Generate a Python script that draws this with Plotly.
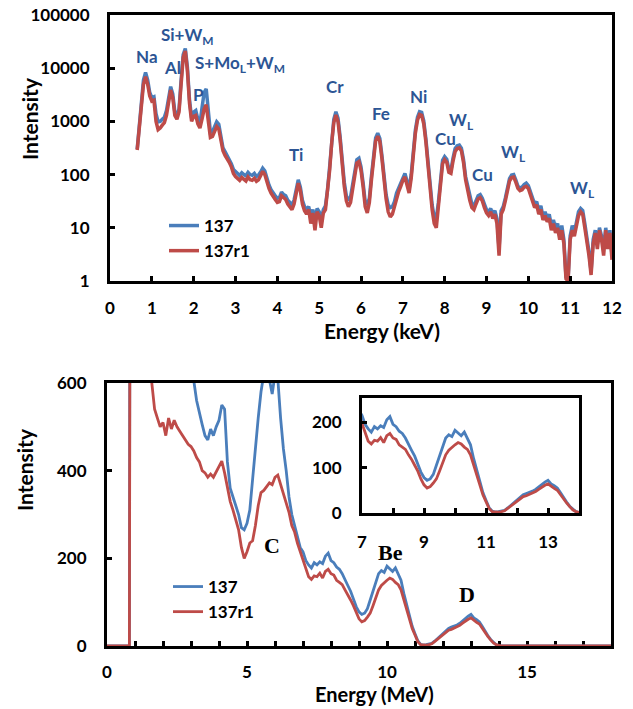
import plotly.graph_objects as go

# ---------------- data: top panel (X-ray spectrum, keV) ----------------
kev_start = 0.65
kev_step = 0.05
# one row per keV interval (0.65-0.95, 1.00-1.95, ..., 11.00-11.95, 12.00)
top_137 = [
    300, 750, 2200, 6000, 8300, 6000, 3500,
    2800, 2900, 1400, 980, 1000, 1100, 1200, 1600, 2600, 4500, 3300, 1500, 1300, 1700, 6000, 18000, 23500, 10500, 2600, 1150,
    1500, 1600, 1100, 900, 1800, 3500, 4100, 1800, 620, 640, 780, 980, 880, 500, 320, 270, 230, 195, 160, 125,
    112, 105, 96, 108, 100, 95, 110, 100, 97, 105, 92, 98, 112, 132, 118, 82, 64, 52, 44, 40,
    36, 37, 47, 42, 40, 33, 30, 27, 33, 53, 80, 58, 33, 25, 22, 25, 16, 22, 13, 23,
    20, 14, 22, 26, 52, 140, 460, 1100, 1520, 1150, 520, 175, 72, 40, 33, 38, 65, 128, 190, 203,
    140, 70, 31, 27, 36, 95, 250, 490, 600, 480, 230, 95, 42, 27, 24, 25, 31, 45, 56, 70,
    92, 105, 76, 54, 100, 290, 690, 1200, 1520, 1480, 1030, 480, 175, 65, 27, 16, 15, 30, 92, 185,
    218, 195, 125, 120, 205, 310, 350, 360, 315, 195, 92, 58, 38, 28, 26, 32, 40, 42, 36, 28,
    22, 20, 23, 18, 21, 15, 4, 21, 25, 36, 56, 84, 98, 100, 80, 61, 56, 58, 65, 69,
    62, 48, 35, 28, 31, 21, 26, 16, 20, 15, 18, 11, 14, 10, 12, 7, 11, 6, 1.2, 1.1,
    7, 11, 8, 14, 20, 23, 21, 12, 7, 3.5, 1.5, 6, 9, 5, 10, 7, 4, 10, 5, 9,
    3,
]
top_137r1 = [
    290, 700, 2000, 5000, 6900, 5000, 3000,
    2400, 2500, 1000, 700, 750, 850, 950, 1300, 2200, 3900, 2800, 1300, 1100, 1500, 5000, 16000, 21000, 9000, 2200, 1000,
    1250, 1300, 900, 750, 1100, 1700, 2050, 1100, 500, 520, 650, 800, 720, 420, 280, 230, 200, 170, 140, 105,
    92, 85, 78, 88, 82, 76, 90, 80, 78, 85, 75, 80, 95, 115, 100, 70, 55, 45, 38, 34,
    30, 31, 40, 36, 34, 28, 25, 22, 28, 45, 69, 50, 28, 21, 18, 22, 12, 19, 9, 20,
    17, 10, 19, 22, 45, 120, 400, 950, 1320, 1000, 450, 150, 60, 32, 25, 30, 55, 110, 165, 175,
    120, 60, 25, 19, 30, 80, 220, 430, 530, 420, 200, 80, 35, 20, 16, 18, 25, 38, 48, 60,
    78, 90, 65, 45, 85, 250, 600, 1050, 1350, 1300, 900, 420, 150, 55, 22, 12, 10, 25, 80, 160,
    190, 170, 110, 105, 180, 270, 310, 320, 280, 170, 80, 50, 33, 24, 22, 28, 35, 37, 32, 24,
    19, 17, 20, 15, 18, 12, 3, 18, 22, 32, 50, 75, 88, 90, 72, 55, 50, 52, 58, 60,
    55, 42, 30, 24, 27, 18, 22, 14, 17, 13, 15, 9, 12, 8, 10, 6, 9, 5, 1.1, 1.0,
    6, 9, 7, 12, 17, 20, 18, 10, 6, 3, 1.3, 5, 8, 4, 9, 6, 3, 9, 4, 8,
    2.5,
]

# ---------------- data: bottom panel (particle spectrum, MeV) ----------------
mev_start = 0.0
mev_step = 0.1
bot_137 = [
    0, 0, 0, 0, 0, 0, 0, 0, 0, 5000,
    4500, 3800, 3200, 2700, 2300, 2000, 1750, 1550, 1400, 1250,
    1150, 1050, 950, 880, 820, 770, 730, 690, 660, 640,
    620, 605, 560, 530, 505, 480, 470, 495, 480, 500,
    515, 550, 540, 420, 360, 340, 320, 300, 270, 265,
    280, 310, 380, 460, 520, 580, 620, 640, 610, 575,
    620, 610, 520, 450, 400, 340, 300, 275, 255, 225,
    215, 195, 185, 178, 190, 185, 192, 188, 205, 212,
    195, 190, 180, 175, 165, 150, 138, 125, 108, 90,
    78, 72, 75, 85, 105, 125, 150, 165, 172, 168,
    182, 175, 170, 178, 165, 150, 120, 95, 70, 45,
    28, 12, 4, 2, 3, 4, 6, 11, 17, 23,
    30, 36, 40, 43, 45, 48, 52, 58, 63, 68,
    72, 64, 60, 55, 45, 33, 24, 15, 8, 3,
    1, 0, 0, 0, 0, 0, 0, 0, 0, 0,
    0, 0, 0, 0, 0, 0, 0, 0, 0, 0,
    0, 0, 0, 0, 0, 0, 0, 0, 0, 0,
    0, 0, 0, 0, 0, 0, 0, 0, 0, 0,
    0,
]
bot_137r1 = [
    0, 0, 0, 0, 0, 0, 0, 0, 0, 4000,
    3000, 2000, 1500, 1100, 850, 700, 600, 540, 520, 500,
    510, 480, 520, 495, 515, 500, 490, 480, 470, 460,
    455, 445, 430, 420, 400, 395, 385, 392, 385, 398,
    410, 422, 395, 360, 330, 310, 285, 265, 225, 200,
    215, 235, 240, 275, 320, 350, 355, 365, 372, 368,
    385, 390, 370, 345, 330, 305, 275, 260, 235, 215,
    197, 175, 158, 152, 160, 158, 166, 155, 170, 175,
    165, 162, 150, 145, 140, 128, 118, 105, 92, 75,
    62, 55, 58, 66, 75, 92, 110, 128, 138, 145,
    150, 155, 152, 145, 140, 128, 105, 85, 60, 40,
    25, 10, 3, 2, 2, 3, 5, 10, 15, 20,
    27, 32, 36, 38, 41, 43, 47, 52, 57, 61,
    64, 58, 54, 50, 40, 30, 22, 14, 7, 3,
    1, 0, 0, 0, 0, 0, 0, 0, 0, 0,
    0, 0, 0, 0, 0, 0, 0, 0, 0, 0,
    0, 0, 0, 0, 0, 0, 0, 0, 0, 0,
    0, 0, 0, 0, 0, 0, 0, 0, 0, 0,
    0,
]

series_names = ["137", "137r1"]
top_x_ticks = [0, 1, 2, 3, 4, 5, 6, 7, 8, 9, 10, 11, 12]
top_y_ticks = [1, 10, 100, 1000, 10000, 100000]
top_y_labels = ["1", "10", "100", "1000", "10000", "100000"]
bot_x_ticks = [0, 5, 10, 15]
bot_y_ticks = [0, 200, 400, 600]
inset_x_ticks = [7, 9, 11, 13]
inset_y_ticks = [0, 100, 200]

peak_labels = ["Na", "Al", "Si+W<sub>M</sub>", "P", "S+Mo<sub>L</sub>+W<sub>M</sub>", "Ti", "Cr", "Fe",
               "Ni", "Cu", "W<sub>L</sub>", "Cu", "W<sub>L</sub>", "W<sub>L</sub>"]
particle_labels = ["C", "Be", "D"]

# ---------------- build ----------------
kev = [round(kev_start + kev_step * i, 3) for i in range(len(top_137))]
mev = [round(mev_start + mev_step * i, 3) for i in range(len(bot_137))]

BLUE = "#4A7EBB"
RED = "#BE4B48"
LABEL_BLUE = "#2C5594"
W, H = 633, 709
FONT = "Lato"

fig = go.Figure()
fig.add_trace(go.Scatter(x=kev, y=top_137, name=series_names[0], mode="lines",
                         line=dict(color=BLUE, width=3.5), xaxis="x", yaxis="y", legend="legend"))
fig.add_trace(go.Scatter(x=kev, y=top_137r1, name=series_names[1], mode="lines",
                         line=dict(color=RED, width=3.5), xaxis="x", yaxis="y", legend="legend"))
fig.add_trace(go.Scatter(x=mev, y=bot_137, name=series_names[0], mode="lines",
                         line=dict(color=BLUE, width=2.8), xaxis="x2", yaxis="y2", legend="legend2"))
fig.add_trace(go.Scatter(x=mev, y=bot_137r1, name=series_names[1], mode="lines",
                         line=dict(color=RED, width=2.8), xaxis="x2", yaxis="y2", legend="legend2"))
fig.add_trace(go.Scatter(x=mev, y=bot_137, mode="lines", showlegend=False,
                         line=dict(color=BLUE, width=2.8), xaxis="x3", yaxis="y3"))
fig.add_trace(go.Scatter(x=mev, y=bot_137r1, mode="lines", showlegend=False,
                         line=dict(color=RED, width=2.8), xaxis="x3", yaxis="y3"))

tickfont = dict(family=FONT, size=17, color="black", weight="bold")
axis_common = dict(showline=True, linecolor="black", linewidth=3, mirror=True, ticks="inside",
                   ticklen=5, tickwidth=2.5, tickcolor="black", showgrid=False, zeroline=False,
                   tickfont=tickfont, automargin=False, ticklabeloverflow="allow")

def px_x(p):
    return p / W

def px_y(p):
    return 1 - p / H

fig.update_layout(
    width=W, height=H, margin=dict(l=0, r=0, t=0, b=0),
    paper_bgcolor="white", plot_bgcolor="white", showlegend=True,
    xaxis=dict(domain=[px_x(110), px_x(612)], range=[0, 12], tickvals=top_x_ticks,
               anchor="y", ticklabelstandoff=10, **axis_common),
    yaxis=dict(domain=[px_y(281), px_y(15)], type="log", range=[0, 5], tickvals=top_y_ticks,
               ticktext=top_y_labels, anchor="x", ticklabelstandoff=14, **axis_common),
    xaxis2=dict(domain=[px_x(107), px_x(611)], range=[0, 18], tickvals=bot_x_ticks,
                minor=dict(dtick=1, ticks="inside", ticklen=5, tickwidth=2.5, tickcolor="black"),
                anchor="y2", layer="below traces", ticklabelstandoff=9, **axis_common),
    yaxis2=dict(domain=[px_y(646), px_y(383)], range=[0, 600], tickvals=bot_y_ticks,
                anchor="x2", ticklabelstandoff=14, **axis_common),
    xaxis3=dict(domain=[px_x(362), px_x(579)], range=[7, 14], tickvals=inset_x_ticks,
                minor=dict(dtick=1, ticks="inside", ticklen=5, tickwidth=2.5, tickcolor="black"),
                anchor="y3", ticklabelstandoff=12, **axis_common),
    yaxis3=dict(domain=[px_y(513), px_y(398)], range=[0, 253], tickvals=inset_y_ticks,
                anchor="x3", ticklabelstandoff=14, **axis_common),
    legend=dict(x=px_x(164), y=px_y(208), xanchor="left", yanchor="top", bgcolor="rgba(0,0,0,0)",
                font=dict(family=FONT, size=17, color="black", weight="bold"), tracegroupgap=0),
    legend2=dict(x=px_x(168), y=px_y(569), xanchor="left", yanchor="top", bgcolor="rgba(0,0,0,0)",
                 font=dict(family=FONT, size=17, color="black", weight="bold"), tracegroupgap=0),
)

# axis titles
titles = [("Energy (keV)", 382, 331, 0, 21), ("Intensity", 30, 118, -90, 21),
          ("Energy (MeV)", 374, 694, 0, 20), ("Intensity", 24, 470, -90, 21)]
for text, x, y, ang, size in titles:
    fig.add_annotation(text=f"<b>{text}</b>", x=px_x(x), y=px_y(y), xref="paper", yref="paper",
                       showarrow=False, textangle=ang, xanchor="center", yanchor="middle",
                       font=dict(family=FONT, size=size, color="black"))

# peak labels (top panel)
peak_pos = [(147, 57), (172, 68), (187, 36), (198, 94), (240, 64), (296, 154), (335, 86), (381, 114),
            (418, 96), (445, 138), (461, 121), (482, 174), (513, 153), (582, 189)]
for text, (x, y) in zip(peak_labels, peak_pos):
    fig.add_annotation(text=f"<b>{text}</b>", x=px_x(x), y=px_y(y), xref="paper", yref="paper",
                       showarrow=False, xanchor="center", yanchor="middle",
                       font=dict(family=FONT, size=17, color=LABEL_BLUE))

particle_pos = [(272, 545), (390, 552), (467, 594)]
for text, (x, y) in zip(particle_labels, particle_pos):
    fig.add_annotation(text=f"<b>{text}</b>", x=px_x(x), y=px_y(y), xref="paper", yref="paper",
                       showarrow=False, xanchor="center", yanchor="middle",
                       font=dict(family="Liberation Serif", size=22, color="black"))

fig.write_html("out.html", config={"displayModeBar": False},
               post_script="document.body.style.margin='0';")
